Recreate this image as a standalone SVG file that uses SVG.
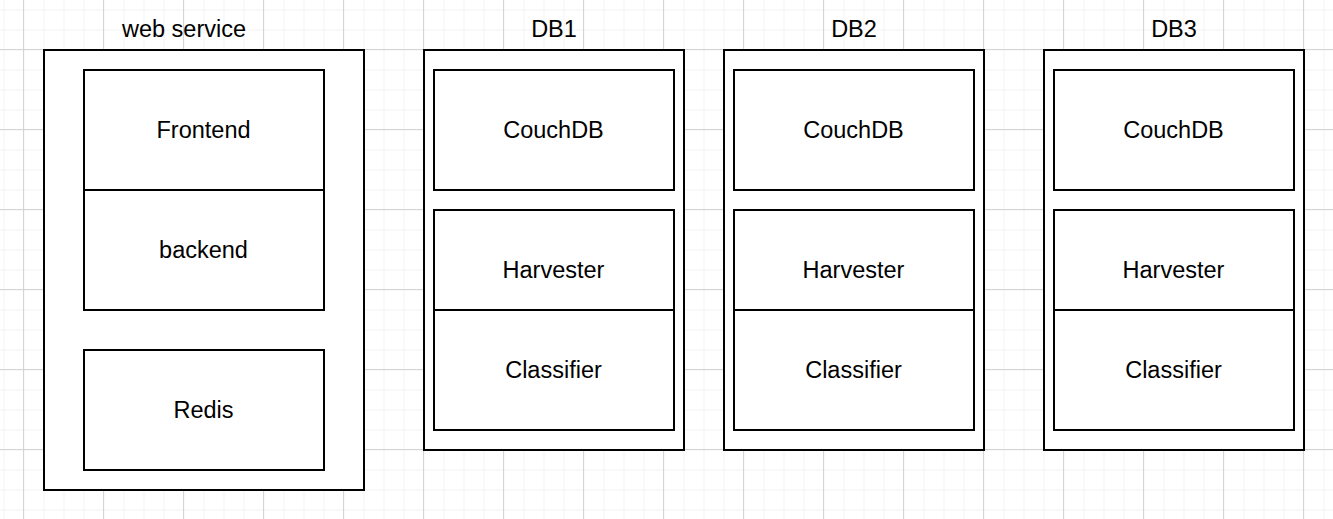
<svg xmlns="http://www.w3.org/2000/svg" width="1333" height="519" viewBox="0 0 1333 519">
<defs>
<pattern id="minor" x="3.5" y="9.5" width="20" height="20" patternUnits="userSpaceOnUse">
<path d="M0 0.5H20M0.5 0V20" fill="none" stroke="#f2f2f2" stroke-width="1"/>
</pattern>
<pattern id="major" x="23" y="49" width="80" height="80" patternUnits="userSpaceOnUse">
<path d="M0 0.5H80M0.5 0V80" fill="none" stroke="#d4d4d4" stroke-width="1"/>
</pattern>
</defs>
<style>
.box{fill:#fff;stroke:#000;stroke-width:2}
.in{fill:none;stroke:#000;stroke-width:2}
text{font-family:"Liberation Sans",Arial,sans-serif;font-size:23.5px;fill:#000;text-anchor:middle}
</style>
<rect width="1333" height="519" fill="#fff"/>
<rect width="1333" height="519" fill="url(#minor)"/>
<rect width="1333" height="519" fill="url(#major)"/>
<g id="web-service">
<rect class="box" x="44" y="50" width="320" height="440"/>
<text x="184" y="37">web service</text>
<g id="frontend"><rect class="in" x="84" y="70" width="240" height="120"/><text x="203.5" y="138">Frontend</text></g>
<g id="backend"><rect class="in" x="84" y="190" width="240" height="120"/><text x="203.5" y="258">backend</text></g>
<g id="redis"><rect class="in" x="84" y="350" width="240" height="120"/><text x="203.5" y="418">Redis</text></g>
</g>
<g id="db1">
<rect class="box" x="424" y="50" width="260" height="400"/>
<text x="554" y="37">DB1</text>
<g id="db1-couchdb"><rect class="in" x="434" y="70" width="240" height="120"/><text x="553.5" y="138">CouchDB</text></g>
<g id="db1-harvester"><rect class="in" x="434" y="210" width="240" height="100"/><text x="553.5" y="278">Harvester</text></g>
<g id="db1-classifier"><rect class="in" x="434" y="310" width="240" height="120"/><text x="553.5" y="378">Classifier</text></g>
</g>
<g id="db2">
<rect class="box" x="724" y="50" width="260" height="400"/>
<text x="854" y="37">DB2</text>
<g id="db2-couchdb"><rect class="in" x="734" y="70" width="240" height="120"/><text x="853.5" y="138">CouchDB</text></g>
<g id="db2-harvester"><rect class="in" x="734" y="210" width="240" height="100"/><text x="853.5" y="278">Harvester</text></g>
<g id="db2-classifier"><rect class="in" x="734" y="310" width="240" height="120"/><text x="853.5" y="378">Classifier</text></g>
</g>
<g id="db3">
<rect class="box" x="1044" y="50" width="260" height="400"/>
<text x="1174" y="37">DB3</text>
<g id="db3-couchdb"><rect class="in" x="1054" y="70" width="240" height="120"/><text x="1173.5" y="138">CouchDB</text></g>
<g id="db3-harvester"><rect class="in" x="1054" y="210" width="240" height="100"/><text x="1173.5" y="278">Harvester</text></g>
<g id="db3-classifier"><rect class="in" x="1054" y="310" width="240" height="120"/><text x="1173.5" y="378">Classifier</text></g>
</g>
<g id="connectors"></g>
</svg>
